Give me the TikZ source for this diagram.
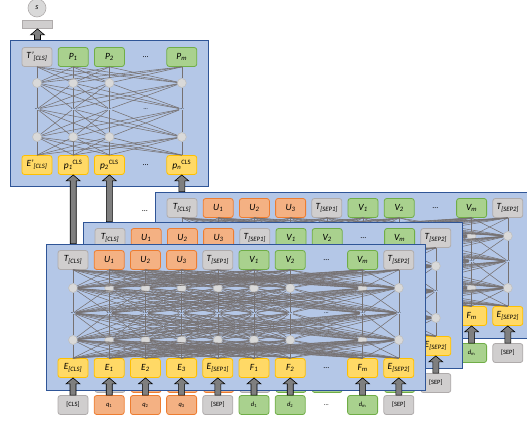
\documentclass[tikz,border=0pt]{standalone}
\usepackage{fontspec}
\setmainfont{Carlito}
\usepackage{xcolor}
\usetikzlibrary{positioning,calc}

\definecolor{panelfill}{HTML}{B4C7E7}
\definecolor{panelline}{HTML}{2F5597}
\definecolor{grayfill}{HTML}{D0CECE}
\definecolor{grayline}{HTML}{AFABAB}
\definecolor{orangefill}{HTML}{F4B183}
\definecolor{orangeline}{HTML}{ED7D31}
\definecolor{greenfill}{HTML}{A9D18E}
\definecolor{greenline}{HTML}{70AD47}
\definecolor{yellowfill}{HTML}{FFD966}
\definecolor{yellowline}{HTML}{FFC000}
\definecolor{unitfill}{HTML}{D9D9D9}
\definecolor{unitline}{HTML}{BFBFBF}
\definecolor{linkgray}{HTML}{767171}
\definecolor{arrowgray}{HTML}{7F7F7F}

% block arrow pointing up, from #1 to #2
\newcommand\blockup[2]{%
  \draw[blockarr] let \p1=(#1), \p2=(#2) in
    ({\x1-3pt},\y1) -- ({\x1-3pt},{\y2-6pt}) -- ({\x1-7pt},{\y2-6pt}) -- (\x1,\y2)
    -- ({\x1+7pt},{\y2-6pt}) -- ({\x1+3pt},{\y2-6pt}) -- ({\x1+3pt},\y1) -- cycle;}

% one encoder panel: #1 prefix, #2 shift
\newcommand\encpanel[2]{%
  \begin{scope}[shift={(#2)}]
    \node[panel, minimum width=379pt, minimum height=146pt] (#1-box) at (235.5,317) {};
    \foreach \lab/\sty [count=\i] in {T\textsubscript{[CLS]}/graytok, U\textsubscript{1}/orangetok,
        U\textsubscript{2}/orangetok, U\textsubscript{3}/orangetok, T\textsubscript{[SEP1]}/graytok,
        V\textsubscript{1}/greentok, V\textsubscript{2}/greentok, \ldots/dotstok,
        V\textsubscript{m}/greentok, T\textsubscript{[SEP2]}/graytok}
      \node[\sty] (#1-t-\i) at ({73+36.2*(\i-1)},260) {\lab};
    \foreach \lab/\sty [count=\i] in {E\textsubscript{[CLS]}/yellowtok, E\textsubscript{1}/yellowtok,
        E\textsubscript{2}/yellowtok, E\textsubscript{3}/yellowtok, E\textsubscript{[SEP1]}/yellowtok,
        F\textsubscript{1}/yellowtok, F\textsubscript{2}/yellowtok, \ldots/dotstok,
        F\textsubscript{m}/yellowtok, E\textsubscript{[SEP2]}/yellowtok}
      \node[\sty] (#1-e-\i) at ({73+36.2*(\i-1)},368) {\lab};
    \foreach \lab/\sty [count=\i] in {[CLS]/graytok, \textit{q}\textsubscript{1}/orangetok,
        \textit{q}\textsubscript{2}/orangetok, \textit{q}\textsubscript{3}/orangetok, [SEP]/graytok,
        \textit{d}\textsubscript{1}/greentok, \textit{d}\textsubscript{2}/greentok, \ldots/dotstok,
        \textit{d}\textsubscript{m}/greentok, [SEP]/graytok}
      \node[\sty, intok] (#1-in-\i) at ({73+36.2*(\i-1)},405) {\lab};
    \foreach \i in {1,...,7,9,10} {
      \node[unit] (#1-h1-\i) at ({73+36.2*(\i-1)},288) {};
      \node[unit] (#1-h2-\i) at ({73+36.2*(\i-1)},340) {};
    }
    \foreach \i in {1,...,10}
      \node[hdots] (#1-d-\i) at ({73+36.2*(\i-1)},313) {\ldots};
    \foreach \i in {1,...,7,9,10}
      \foreach \j in {1,...,7,9,10} {
        \draw[link] (#1-t-\i.south) -- (#1-h1-\j);
        \draw[link] (#1-h1-\i) -- (#1-d-\j);
        \draw[link] (#1-d-\i) -- (#1-h2-\j);
        \draw[link] (#1-h2-\i) -- (#1-e-\j.north);
      }
  \end{scope}
  \foreach \i in {1,...,7,9,10} \blockup{#1-in-\i.north}{#1-e-\i.south};
}

\begin{document}
\begin{tikzpicture}[x=1pt, y=-1pt,
    tok/.style={draw, rounded corners=2.5pt, line width=0.8pt, minimum width=30pt,
      minimum height=19pt, inner sep=0pt, font=\fontsize{9.5}{11}\selectfont\itshape},
    graytok/.style={tok, fill=grayfill, draw=grayline},
    orangetok/.style={tok, fill=orangefill, draw=orangeline},
    greentok/.style={tok, fill=greenfill, draw=greenline},
    yellowtok/.style={tok, fill=yellowfill, draw=yellowline},
    dotstok/.style={inner sep=0pt, font=\fontsize{8}{10}\selectfont},
    intok/.style={font=\fontsize{6.5}{7}\selectfont},
    unit/.style={circle, fill=unitfill, draw=unitline, line width=0.6pt, minimum size=9pt, inner sep=0pt},
    hdots/.style={inner sep=0.5pt, font=\fontsize{6}{6}\selectfont},
    link/.style={draw=linkgray, line width=0.55pt},
    panel/.style={fill=panelfill, draw=panelline, line width=0.7pt, inner sep=0pt},
    blockarr/.style={fill=arrowgray, draw=black, line width=0.6pt}]
  \useasboundingbox (0,0) rectangle (527,421);
  \clip (0,0) rectangle (527,421);

  % top model
  \node[unit, draw=grayline, minimum size=18pt, font=\fontsize{8}{9}\selectfont\itshape] (q-s) at (37,8) {s};
  \node[graytok, minimum height=8pt, rounded corners=0pt] (q-out) at (37.5,24.5) {};
  \node[panel, minimum width=198pt, minimum height=146pt] (q-box) at (109,113) {};
  \foreach \lab/\sty [count=\i] in {T’\textsubscript{[CLS]}/graytok, P\textsubscript{1}/greentok,
      P\textsubscript{2}/greentok, \ldots/dotstok, P\textsubscript{m}/greentok}
    \node[\sty] (q-t-\i) at ({37+36.2*(\i-1)},57) {\lab};
  \foreach \lab/\sty [count=\i] in {E’\textsubscript{[CLS]}/yellowtok,
      p\textsubscript{1}\textsuperscript{\upshape CLS}/yellowtok,
      p\textsubscript{2}\textsuperscript{\upshape CLS}/yellowtok, \ldots/dotstok,
      p\textsubscript{n}\textsuperscript{\upshape CLS}/yellowtok}
    \node[\sty] (q-e-\i) at ({37+36.2*(\i-1)},165) {\lab};
  \foreach \i in {1,2,3,5} {
    \node[unit] (q-h1-\i) at ({37+36.2*(\i-1)},83) {};
    \node[unit] (q-h2-\i) at ({37+36.2*(\i-1)},137) {};
  }
  \foreach \i in {1,...,5}
    \node[hdots] (q-d-\i) at ({37+36.2*(\i-1)},109) {\ldots};
  \foreach \i in {1,2,3,5}
    \foreach \j in {1,2,3,5} {
      \draw[link] (q-t-\i.south) -- (q-h1-\j);
      \draw[link] (q-h1-\i) -- (q-d-\j);
      \draw[link] (q-d-\i) -- (q-h2-\j);
      \draw[link] (q-h2-\i) -- (q-e-\j.north);
    }
  \blockup{q-box.north -| q-out}{q-out.south}

  % stacked encoders, back to front
  \encpanel{a}{109,-52}
  \blockup{a-box.north -| q-e-5}{q-e-5.south}
  \node[dotstok] (stackdots) at (145,211) {\ldots};
  \encpanel{b}{37,-22}
  \blockup{b-box.north -| q-e-3}{q-e-3.south}
  \encpanel{c}{0,0}
  \blockup{c-box.north -| q-e-2}{q-e-2.south}
\end{tikzpicture}
\end{document}
